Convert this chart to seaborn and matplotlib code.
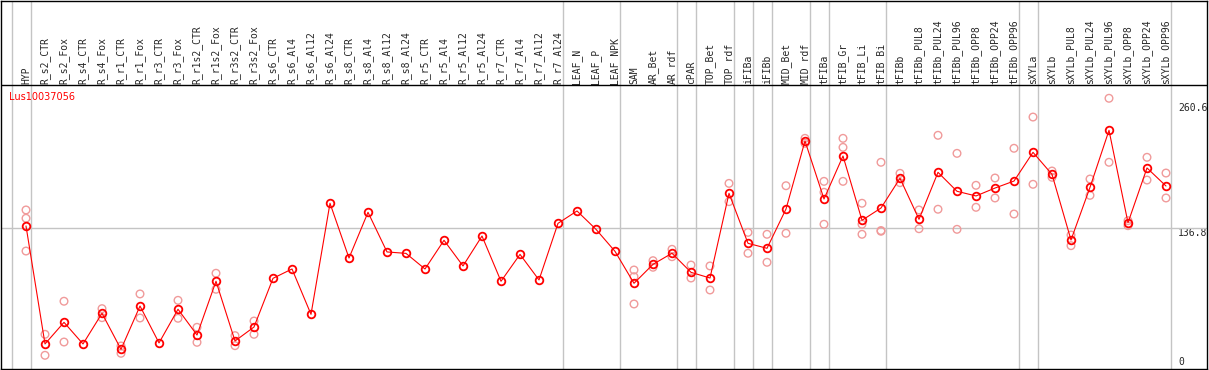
import numpy as np
import pandas as pd
import seaborn as sns
import matplotlib.pyplot as plt

nan = np.nan

gene = "Lus10037056"

samples = ['HYP', 'R_s2_CTR', 'R_s2_Fox', 'R_s4_CTR', 'R_s4_Fox', 'R_r1_CTR', 'R_r1_Fox',
           'R_r3_CTR', 'R_r3_Fox', 'R_r1s2_CTR', 'R_r1s2_Fox', 'R_r3s2_CTR', 'R_r3s2_Fox',
           'R_s6_CTR', 'R_s6_Al4', 'R_s6_Al12', 'R_s6_Al24', 'R_s8_CTR', 'R_s8_Al4',
           'R_s8_Al12', 'R_s8_Al24', 'R_r5_CTR', 'R_r5_Al4', 'R_r5_Al12', 'R_r5_Al24',
           'R_r7_CTR', 'R_r7_Al4', 'R_r7_Al12', 'R_r7_Al24', 'LEAF_N', 'LEAF_P', 'LEAF_NPK',
           'SAM', 'AR_Bet', 'AR_rdf', 'cPAR', 'TOP_Bet', 'TOP_rdf', 'iFIBa', 'iFIBb',
           'MID_Bet', 'MID_rdf', 'tFIBa', 'tFIB_Gr', 'tFIB_Li', 'tFIB_Bi', 'tFIBb',
           'tFIBb_PUL8', 'tFIBb_PUL24', 'tFIBb_PUL96', 'tFIBb_OPP8', 'tFIBb_OPP24',
           'tFIBb_OPP96', 'sXYLa', 'sXYLb', 'sXYLb_PUL8', 'sXYLb_PUL24', 'sXYLb_PUL96',
           'sXYLb_OPP8', 'sXYLb_OPP24', 'sXYLb_OPP96']

# mean expression per sample
means = [139, 22.7, 44, 22.7, 52.9, 17.4, 60.1, 23.7, 56.9, 31.5, 84.5, 25.6, 39.4,
         87.4, 96.6, 51.9, 161.4, 107.4, 152.5, 113.4, 112, 96.6, 124.9, 99.6, 129.1,
         84.5, 111, 85.8, 141.6, 153.8, 135.7, 114,
         82.5, 101.2, 112.1, 93.3, 87.7, 171.2, 121.9, 117, 155.7, 222.8, 165.6, 208,
         144.6, 156.7, 186, 145.6, 191.9, 173.2, 168.6, 176.4, 183.3, 211.6, 189.9,
         125.2, 177.1, 233.3, 142.2, 196.2, 178.4]

# individual replicates (nan = none)
rep_a = [154.8, 32.2, 64.8, nan, 57.5, 20.7, 72, nan, 65.7, 39.1, 92.4, 30.9, 45.3,
         nan, nan, nan, nan, nan, nan, nan, nan, nan, nan, nan, nan, nan, nan, nan, nan,
         nan, nan, nan,
         95.6, 104.8, 116, 100.5, 99.6, 181, 132.7, 130.8, 178.7, 225.4, 183, 225.4,
         161.4, 201.8, 190.9, 154.8, 228.4, 210.6, 179.1, 186.3, 215.6, 246.4, 193.2,
         130.1, 185.3, 264.9, 144.2, 206.7, 191.2]
rep_b = [146.6, 11.5, 24.6, nan, 48.6, 13.5, 48.3, nan, 48, 24.3, 76.6, 21, 32.2,
         nan, nan, nan, nan, nan, nan, nan, nan, nan, nan, nan, nan, nan, nan, nan, nan,
         nan, nan, nan,
         89, 98.3, 108.7, 87.7, 75.9, 163, 112.1, 103.2, 131.8, 220.5, 172.2, 216.5,
         140.7, 133.8, 181.7, 136.3, 155.5, 135.7, 157.4, 166.6, 150.8, 180.1, 187,
         119.6, 169.2, 201.8, 139.3, 184.3, 166.6]
rep_c = [114.3, nan, nan, nan, nan, nan, nan, nan, nan, nan, nan, nan, nan,
         nan, nan, nan, nan, nan, nan, nan, nan, nan, nan, nan, nan, nan, nan, nan, nan,
         nan, nan, nan,
         62.1, nan, nan, nan, nan, nan, nan, nan, nan, nan, 140.7, 183,
         130.8, 134.5, nan, nan, nan, nan, nan, nan, nan, nan, nan,
         nan, nan, nan, nan, nan, nan]

# last sample index of each tissue group (separator lines)
group_ends = [-1, 0, 28, 31, 34, 35, 37, 38, 39, 41, 42, 45, 52, 53, 60]

y_ticks = [0, 136.8, 260.6]
y_tick_labels = ['0', '136.8', '260.6']

sns.set_style("white")
plt.rcParams['font.family'] = ['DejaVu Sans Mono', 'DejaVu Sans']

pos = np.arange(len(samples))
reps = pd.DataFrame({'pos': np.tile(pos, 3),
                     'value': rep_a + rep_b + rep_c}).dropna()

fig = plt.figure(figsize=(12.09, 3.70), dpi=100)
ax = fig.add_axes([1 / 1209, 1 / 370, 1206 / 1209, 368.5 / 370])

for g in group_ends:
    ax.axvline(g + 0.25, color='#c4c4c4', lw=1, zorder=1)
ax.axhline(136.8, color='#c4c4c4', lw=1, zorder=1)
ax.axhline(278, color='black', lw=1, zorder=2)

sns.scatterplot(data=reps, x='pos', y='value', marker='o', s=30,
                facecolor='none', edgecolor='#f09a9a', linewidth=1, ax=ax, zorder=3)
sns.lineplot(x=pos, y=means, color='red', lw=0.8, marker='o', markersize=5.5,
             markerfacecolor='none', markeredgecolor='red', markeredgewidth=1.3,
             ax=ax, zorder=4)

ax.set_xlim(-1.316, 62.158)
ax.set_ylim(-2, 361.3)
ax.set_xlabel('')
ax.set_ylabel('')

ax.set_xticks(pos, samples)
ax.xaxis.tick_top()
ax.tick_params(axis='x', length=0, pad=-59.8, labelrotation=90, labelsize=7)

ax.set_yticks(y_ticks, y_tick_labels)
ax.yaxis.tick_right()
ax.tick_params(axis='y', length=0, pad=-20.9, labelsize=7)
for i, lbl in enumerate(ax.get_yticklabels()):
    lbl.set_va('bottom' if i == 0 else 'top')

for sp in ax.spines.values():
    sp.set_color('black')
    sp.set_linewidth(1)

fig.text(9 / 1209, 1 - 92 / 370, gene, color='red', fontsize=7,
         family='DejaVu Sans', va='top')

fig.savefig('out.png', dpi=100)
plt.close()
